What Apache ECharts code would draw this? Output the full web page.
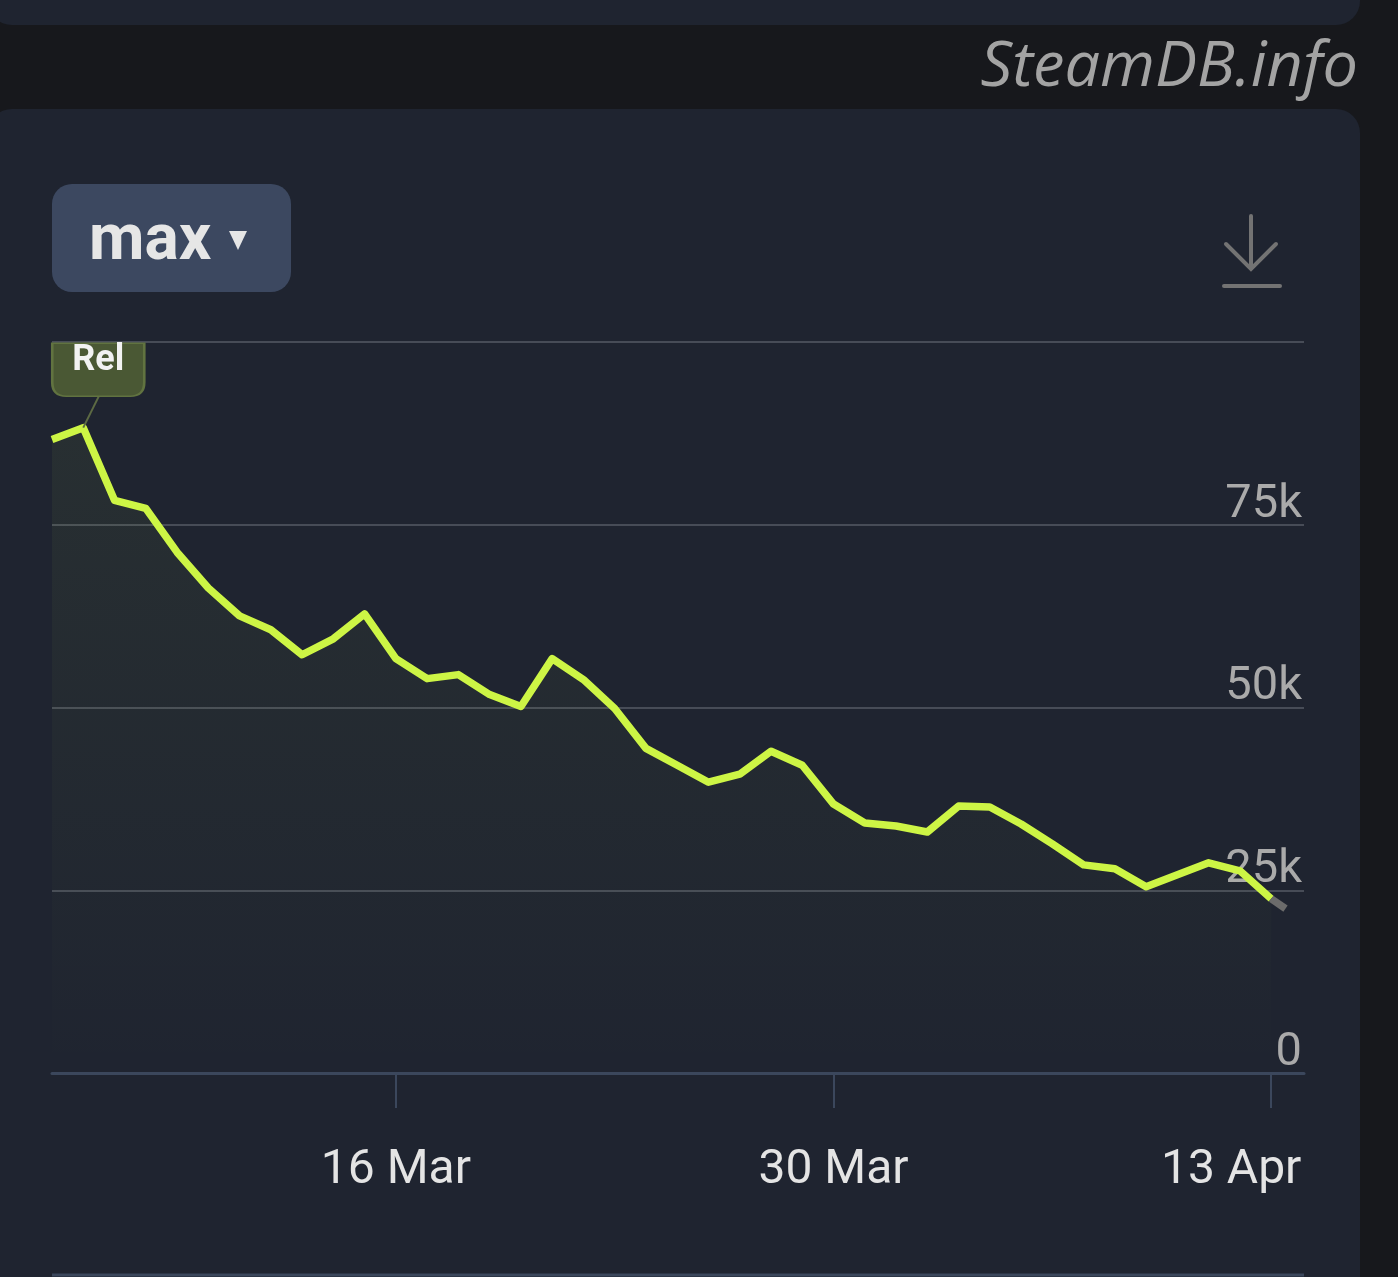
<!DOCTYPE html>
<html>
<head>
<meta charset="utf-8">
<script src="https://cdn.jsdelivr.net/npm/echarts@6/dist/echarts.min.js"></script>
<style>
html,body{margin:0;padding:0;background:#17181c;}
#chart{width:1398px;height:1277px;}
</style>
</head>
<body>
<div id="chart"></div>
<script>
// daily player counts, 5 Mar -> 13 Apr
var startDay = [2025, 2, 5];
var playerCounts = [
    86650, 88280, 78340, 77250, 71250, 66350, 62530, 60630, 57220, 59400,
    62810, 56680, 53950, 54500, 51770, 50140, 56680, 53820, 49860, 44410,
    42100, 39780, 40870, 44010, 42100, 36790, 34200, 33790, 32970, 36510,
    36380, 34060, 31340, 28470, 27930, 25480, 27110, 28750, 27660, 23840
];
// last, still incomplete day (grey tail)
var partialHours = 11;
var partialCount = 22480;

var xTickDates = [[2025, 2, 16], [2025, 2, 30], [2025, 3, 13]];
var yTicks = [0, 25000, 50000, 75000, 100000];

var releaseDayIndex = 1;
var releaseLabel = 'Rel';
var monthNames = ['Jan','Feb','Mar','Apr','May','Jun','Jul','Aug','Sep','Oct','Nov','Dec'];

var DAY = 86400000;
var t0 = new Date(startDay[0], startDay[1], startDay[2]).getTime();

// x is days since startDay
function dayOf(y, m, d) {
    return Math.round((new Date(y, m, d).getTime() - t0) / DAY);
}

var lineData = [];
for (var i = 0; i < playerCounts.length; i++) {
    lineData.push([i, playerCounts[i]]);
}
var lastX = playerCounts.length - 1;
var tailData = [[lastX, playerCounts[lastX]], [lastX + partialHours / 24, partialCount]];

var tickValues = [];
for (var i = 0; i < xTickDates.length; i++) {
    tickValues.push(dayOf(xTickDates[i][0], xTickDates[i][1], xTickDates[i][2]));
}
var lastTick = tickValues[tickValues.length - 1];
var relV = playerCounts[releaseDayIndex];

var chart = echarts.init(document.getElementById('chart'));

var option = {
    backgroundColor: '#17181c',
    animation: false,
    grid: {
        left: 52,
        right: 94,
        top: 342,
        bottom: 204
    },
    xAxis: {
        type: 'value',
        min: 0,
        max: 40.05,
        splitLine: { show: false },
        axisLine: { lineStyle: { color: '#3b475c', width: 3 } },
        axisTick: {
            show: true,
            customValues: tickValues,
            length: 35,
            lineStyle: { color: '#3b475c', width: 2 }
        },
        axisLabel: {
            customValues: tickValues,
            margin: 74,
            color: '#e4e4e4',
            fontSize: 48,
            fontFamily: 'Roboto',
            formatter: function (v) {
                var d = new Date(t0 + v * DAY + 3600000);
                var s = d.getDate() + ' ' + monthNames[d.getMonth()];
                // last label is pushed left to stay inside the plot
                return v === lastTick ? '{edge|' + s + '}' : s;
            },
            rich: {
                edge: { fontSize: 48, fontFamily: 'Roboto', color: '#e4e4e4', padding: [0, 80, 0, 0] }
            }
        }
    },
    yAxis: {
        type: 'value',
        position: 'right',
        min: yTicks[0],
        max: yTicks[yTicks.length - 1],
        interval: 25000,
        axisLine: { show: false },
        axisTick: { show: false },
        splitLine: { lineStyle: { color: '#474c57', width: 2 } },
        axisLabel: {
            inside: true,
            showMaxLabel: false,
            margin: 2,
            verticalAlign: 'bottom',
            lineHeight: 40,
            color: '#aaaaaa',
            fontSize: 47,
            fontFamily: 'Roboto',
            formatter: function (v) {
                return v === 0 ? '0' : (v / 1000) + 'k';
            }
        }
    },
    series: [
        {
            type: 'line',
            data: lineData,
            symbol: 'none',
            z: 3,
            lineStyle: { color: '#cdf545', width: 7.5, join: 'round' },
            areaStyle: {
                color: new echarts.graphic.LinearGradient(0, 0, 0, 1, [
                    { offset: 0, color: 'rgba(190,240,80,0.08)' },
                    { offset: 0.8, color: 'rgba(190,240,80,0.02)' },
                    { offset: 1, color: 'rgba(190,240,80,0.0)' }
                ])
            },
            markLine: {
                silent: true,
                symbol: 'none',
                label: { show: false },
                lineStyle: { color: '#5c6a43', width: 2, type: 'solid' },
                data: [[
                    { coord: [releaseDayIndex, relV] },
                    { coord: [releaseDayIndex + 0.5, 92600] }
                ]]
            },
            markPoint: {
                silent: true,
                symbol: 'path://M0,0 H92 V39 Q92,53 78,53 H14 Q0,53 0,39 Z',
                symbolSize: [92, 53],
                symbolKeepAspect: false,
                symbolOffset: [15, -58],
                itemStyle: { color: '#4a5834', borderColor: '#617340', borderWidth: 2 },
                label: {
                    show: true,
                    position: 'inside',
                    offset: [0, -9],
                    formatter: releaseLabel,
                    color: '#f2f2f2',
                    fontSize: 36,
                    fontWeight: 'bold',
                    fontFamily: 'Roboto'
                },
                data: [{ coord: [releaseDayIndex, relV] }]
            }
        },
        {
            type: 'line',
            data: tailData,
            symbol: 'none',
            z: 3,
            lineStyle: { color: '#6b6b6b', width: 7.5 }
        }
    ],
    graphic: [
        {
            type: 'rect', z: -10, silent: true,
            shape: { x: -12, y: -60, width: 1372, height: 85, r: 24 },
            style: { fill: '#1f2430' }
        },
        {
            type: 'rect', z: -10, silent: true,
            shape: { x: -12, y: 109, width: 1372, height: 1220, r: 24 },
            style: { fill: '#1f2430' }
        },
        {
            type: 'text', silent: true,
            style: {
                text: 'SteamDB.info',
                x: 1358, y: 68,
                textAlign: 'right',
                textVerticalAlign: 'middle',
                font: 'italic 63px "Open Sans"',
                fill: '#a3a3a3'
            }
        },
        {
            type: 'rect', silent: true,
            shape: { x: 52, y: 184, width: 239, height: 108, r: 20 },
            style: { fill: '#3c4860' }
        },
        {
            type: 'text', silent: true,
            style: {
                text: 'max',
                x: 89, y: 243,
                textVerticalAlign: 'middle',
                font: 'bold 64px Roboto',
                fill: '#e6e6e6'
            }
        },
        {
            type: 'polygon', silent: true,
            shape: { points: [[229, 231], [247, 231], [238, 250]] },
            style: { fill: '#e6e6e6' }
        },
        {
            type: 'polyline', silent: true,
            shape: { points: [[1251, 216], [1251, 268]] },
            style: { stroke: '#737373', lineWidth: 4, lineCap: 'round' }
        },
        {
            type: 'polyline', silent: true,
            shape: { points: [[1226, 244], [1251, 269], [1276, 244]] },
            style: { stroke: '#737373', lineWidth: 4, lineCap: 'round', fill: null }
        },
        {
            type: 'polyline', silent: true,
            shape: { points: [[1224, 286], [1280, 286]] },
            style: { stroke: '#737373', lineWidth: 4, lineCap: 'round' }
        },
        {
            type: 'polyline', silent: true,
            shape: { points: [[52, 1275], [1304, 1275]] },
            style: { stroke: '#3b475c', lineWidth: 3 }
        }
    ]
};

chart.setOption(option);
</script>
</body>
</html>
